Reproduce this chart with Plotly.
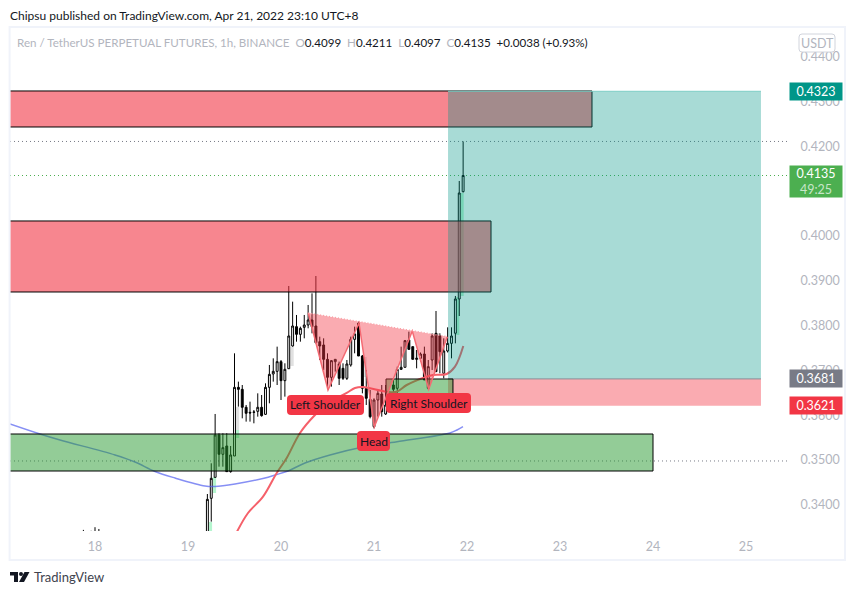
import plotly.graph_objects as go

FONT = "Lato"
WIDTH, HEIGHT = 855, 595
PANE_L, PANE_R, PANE_T, PANE_B = 10, 788, 27, 531

# Hourly OHLC, as hours counted from day 17
wick_hours = [21, 23, 24, 25]
wick_open = [0.3300, 0.3300, 0.3300, 0.3300]
wick_high = [0.3344, 0.3342, 0.3350, 0.3346]
wick_low = [0.3290, 0.3290, 0.3290, 0.3290]
wick_close = [0.3310, 0.3310, 0.3310, 0.3310]

opens = [0.3300, 0.34145, 0.34613, 0.35558, 0.35127, 0.35313, 0.34740, 0.35089, 0.36622, 0.36577,
         0.36176, 0.36064, 0.36064, 0.36086, 0.36176, 0.36019, 0.36622, 0.36920, 0.36979, 0.37195,
         0.36771, 0.37038, 0.37545, 0.37976, 0.37805, 0.37961, 0.38013, 0.38125, 0.37991, 0.37641,
         0.37567, 0.37247, 0.36845, 0.37195, 0.37143, 0.37046, 0.36823, 0.37121, 0.37693, 0.38051,
         0.37321, 0.36600, 0.36354, 0.35744, 0.36339, 0.36473, 0.36027, 0.36228, 0.36674, 0.36600,
         0.37024, 0.37069, 0.37679, 0.37530, 0.37247, 0.37269, 0.37366, 0.36600, 0.37232, 0.37827,
         0.37768, 0.36935, 0.37433, 0.37604, 0.37830, 0.38594, 0.4099]
highs = [0.34241, 0.34926, 0.36027, 0.35595, 0.35595, 0.35595, 0.35313, 0.37381, 0.36749, 0.36674,
         0.36228, 0.36302, 0.36116, 0.36488, 0.36451, 0.36711, 0.37121, 0.37269, 0.37530, 0.37232,
         0.37158, 0.38884, 0.38534, 0.38237, 0.37976, 0.38237, 0.38460, 0.38720, 0.39107, 0.37753,
         0.37716, 0.37381, 0.37232, 0.37247, 0.37195, 0.37158, 0.37232, 0.37753, 0.37976, 0.38088,
         0.37344, 0.37009, 0.36563, 0.36377, 0.36563, 0.36674, 0.36674, 0.36500, 0.36786, 0.37083,
         0.37530, 0.37679, 0.37865, 0.37530, 0.37455, 0.37400, 0.37530, 0.37232, 0.37827, 0.38326,
         0.37827, 0.37716, 0.37961, 0.37961, 0.38661, 0.41228, 0.4211]
lows = [0.3290, 0.33624, 0.34613, 0.34851, 0.34851, 0.34740, 0.34717, 0.35089, 0.36191, 0.35930,
        0.35856, 0.35856, 0.35819, 0.35967, 0.35967, 0.36005, 0.36265, 0.36749, 0.36674, 0.36339,
        0.36414, 0.37038, 0.37530, 0.37641, 0.37641, 0.37716, 0.37939, 0.37827, 0.37604, 0.37232,
        0.37009, 0.36622, 0.36637, 0.36972, 0.36674, 0.36786, 0.36786, 0.37083, 0.37381, 0.37321,
        0.36488, 0.36228, 0.35930, 0.35707, 0.35967, 0.35967, 0.36005, 0.36150, 0.36473, 0.36488,
        0.37009, 0.37069, 0.37455, 0.37247, 0.37046, 0.37200, 0.36786, 0.36577, 0.37009, 0.37000,
        0.36935, 0.36823, 0.37400, 0.37269, 0.37604, 0.38214, 0.4097]
closes = [0.34122, 0.34591, 0.35558, 0.35127, 0.35275, 0.34740, 0.35112, 0.36622, 0.36577, 0.36176,
          0.36042, 0.36050, 0.36070, 0.36176, 0.35990, 0.36622, 0.36912, 0.36979, 0.37195, 0.36771,
          0.37024, 0.37768, 0.37991, 0.37805, 0.37939, 0.38013, 0.38125, 0.37976, 0.37619, 0.37545,
          0.37247, 0.36845, 0.37217, 0.37247, 0.36823, 0.36823, 0.37143, 0.37693, 0.37813, 0.37321,
          0.36600, 0.36377, 0.35967, 0.36339, 0.36488, 0.36079, 0.36228, 0.36400, 0.36577, 0.37024,
          0.37069, 0.37664, 0.37470, 0.37247, 0.37269, 0.37366, 0.36786, 0.37083, 0.37768, 0.36972,
          0.37418, 0.37433, 0.37604, 0.37768, 0.38594, 0.40960, 0.4135]

# Pale range blocks that sit behind the candles
block_time = [19.2409, 19.2839, 19.5323, 19.5323, 20.1183, 20.9032, 21.4624, 21.6882, 21.9000, 21.9462]
block_low = [0.3337, 0.34263, 0.35670, 0.35491, 0.37098, 0.36853, 0.37232, 0.37232, 0.37790, 0.38661]
block_high = [0.33616, 0.34621, 0.36183, 0.35670, 0.37522, 0.37299, 0.37455, 0.37835, 0.38638, 0.40960]
block_color = ["#b5f5cf", "#b5f5cf", "#e0e0e0", "#b5f5cf", "#e0e0e0", "#e0e0e0", "#e0e0e0", "#e0e0e0", "#b5f5cf", "#b5f5cf"]

# Moving averages
ma_blue_time = [17.0860, 17.4086, 17.6237, 18.2151, 18.4301, 18.6452, 18.8602, 19.1828, 19.2903, 19.5054,
                19.8280, 19.9355, 20.0753, 20.2581, 20.5269, 20.8817, 21.2473, 21.8172, 21.8925, 21.9570]
ma_blue = [0.35804, 0.35580, 0.35446, 0.35112, 0.34955, 0.34743, 0.34598, 0.34420, 0.34408, 0.34464,
           0.34598, 0.34665, 0.34754, 0.34933, 0.35112, 0.35290, 0.35408, 0.35603, 0.35670, 0.35743]
ma_red_time = [19.5269, 19.6452, 19.8065, 19.9538, 20.0613, 20.2043, 20.3656, 20.5269, 20.7065, 20.7957,
               20.8817, 21.1366, 21.2441, 21.3516, 21.5269, 21.6344, 21.7817, 21.8710, 21.9602]
ma_red = [0.33400, 0.33817, 0.34181, 0.34710, 0.35045, 0.35603, 0.36004, 0.36295, 0.36496, 0.36607,
          0.36629, 0.36525, 0.36525, 0.36674, 0.36830, 0.36897, 0.36920, 0.37083, 0.37545]

# Head and shoulders pivots
pattern_time = [20.2935, 20.5054, 20.8387, 21.0032, 21.4118, 21.5882, 21.7882]
pattern_price = [0.38281, 0.36562, 0.38058, 0.35737, 0.37879, 0.36578, 0.37752]

# Supply and demand zones: start, end, top, bottom
zones = [
    (16.0, 23.344, 0.43237, 0.42433, "rgba(242,54,69,0.6)"),
    (16.0, 22.258, 0.40335, 0.38750, "rgba(242,54,69,0.6)"),
    (16.0, 24.0, 0.35580, 0.34754, "rgba(39,153,48,0.5)"),
]
entry_box = (21.129, 21.849, 0.36808, 0.36451)

# Long position tool
long_start, long_end = 21.796, 25.161
target_price, entry_price, stop_price = 0.4323, 0.3681, 0.3621
last_high, last_close, level_price = 0.4211, 0.4135, 0.34978

price_ticks = [0.44, 0.43, 0.42, 0.40, 0.39, 0.38, 0.37, 0.36, 0.35, 0.34]
day_ticks = [18, 19, 20, 21, 22, 23, 24, 25]
pattern_labels = [
    ("Left Shoulder", 20.4785, 0.36228, 77),
    ("Head", 20.9946, 0.35424, 33),
    ("Right Shoulder", 21.5860, 0.36272, 85),
]
price_tags = [
    ("0.4323", 0.4323, "#009688", 17, 0),
    ("0.4135<br><span style='color:#c8e6c9'>49:25</span>", 0.4135, "#4caf50", 31, -6),
    ("0.3681", 0.3681, "#787b86", 17, 0),
    ("0.3621", 0.3621, "#f23645", 17, 0),
]


def px_x(x):
    return (x - PANE_L) / (PANE_R - PANE_L)


def px_y(y):
    return (PANE_B - y) / (PANE_B - PANE_T)


def rounded_path(w, h, r):
    a, b = w / 2, h / 2
    return (f"M{-a + r},{-b} L{a - r},{-b} Q{a},{-b} {a},{-b + r} L{a},{b - r} Q{a},{b} {a - r},{b} "
            f"L{-a + r},{b} Q{-a},{b} {-a},{b - r} L{-a},{-b + r} Q{-a},{-b} {-a + r},{-b} Z")


hours = wick_hours + [48 + 5 + i for i in range(len(opens))]
times = [17 + h / 24 for h in hours]

fig = go.Figure()
fig.add_trace(go.Bar(
    x=block_time,
    y=[h - l for h, l in zip(block_high, block_low)],
    base=block_low,
    width=0.036,
    marker=dict(color=block_color, line=dict(width=0)),
    hoverinfo="skip",
))
fig.add_trace(go.Scatter(x=ma_blue_time, y=ma_blue, mode="lines",
                         line=dict(color="rgba(82,96,240,0.7)", width=1.5, shape="spline")))
fig.add_trace(go.Candlestick(
    x=times,
    open=wick_open + opens,
    high=wick_high + highs,
    low=wick_low + lows,
    close=wick_close + closes,
    increasing=dict(fillcolor="#ffffff", line=dict(color="#000000", width=1)),
    decreasing=dict(fillcolor="#000000", line=dict(color="#000000", width=1)),
))
fig.add_trace(go.Scatter(x=ma_red_time, y=ma_red, mode="lines",
                         line=dict(color="#f5606a", width=2, shape="spline")))

shapes = []
# Reference levels
for price, color in [(last_high, "#787b86"), (last_close, "#4caf50"), (level_price, "#787b86")]:
    shapes.append(dict(type="line", xref="paper", x0=0, x1=1, yref="y", y0=price, y1=price,
                       line=dict(color=color, width=1, dash="1px,3px"), layer="below"))

for x0, x1, top, bottom, color in zones:
    shapes.append(dict(type="rect", x0=x0, x1=x1, y0=bottom, y1=top, fillcolor=color,
                       line=dict(color="#000000", width=1), layer="above"))

# Long position: profit and stop areas
shapes.append(dict(type="rect", x0=long_start, x1=long_end, y0=entry_price, y1=target_price,
                   fillcolor="rgba(0,150,136,0.34)", line=dict(width=0), layer="above"))
shapes.append(dict(type="rect", x0=long_start, x1=long_end, y0=stop_price, y1=entry_price,
                   fillcolor="rgba(242,54,69,0.42)", line=dict(width=0), layer="above"))
shapes.append(dict(type="line", x0=long_start, x1=long_end, y0=entry_price, y1=entry_price,
                   line=dict(color="#8a8d96", width=1), layer="above"))
shapes.append(dict(type="line", x0=long_start, x1=long_end, y0=target_price, y1=target_price,
                   line=dict(color="#7fcfc6", width=1), layer="above"))

shapes.append(dict(type="rect", x0=entry_box[0], x1=entry_box[1], y0=entry_box[3], y1=entry_box[2],
                   fillcolor="rgba(39,153,48,0.5)", line=dict(color="#000000", width=1), layer="above"))

# Pattern polygon; closing the path draws the neckline
pattern_path = "M" + " L".join(f"{t},{p}" for t, p in zip(pattern_time, pattern_price)) + " Z"
shapes.append(dict(type="path", path=pattern_path, fillcolor="rgba(242,54,69,0.42)",
                   line=dict(width=0), layer="above"))
zigzag_path = "M" + " L".join(f"{t},{p}" for t, p in zip(pattern_time, pattern_price))
shapes.append(dict(type="path", path=zigzag_path, line=dict(color="#f56a73", width=1.5), layer="above"))
shapes.append(dict(type="line", x0=pattern_time[0], x1=pattern_time[-1],
                   y0=pattern_price[0], y1=pattern_price[-1],
                   line=dict(color="#f9a0a6", width=1.5, dash="1px,2px"), layer="above"))

annotations = []
for text, t, p, w in pattern_labels:
    shapes.append(dict(type="path", xsizemode="pixel", ysizemode="pixel", xanchor=t, yanchor=p,
                       path=rounded_path(w, 20, 4), fillcolor="#f23645", line=dict(width=0), layer="above"))
    annotations.append(dict(x=t, y=p, text=text, showarrow=False,
                            font=dict(family=FONT, size=12, color="#131722")))

for text, price, color, h, shift in price_tags:
    annotations.append(dict(xref="paper", yref="y", x=px_x(789), y=price, xanchor="left", yanchor="middle",
                            text=text, showarrow=False, bgcolor=color, width=52, height=h, borderpad=0,
                            yshift=shift, align="center", font=dict(family=FONT, size=12.5, color="#ffffff")))

# Outer frame of the chart widget
shapes.append(dict(type="rect", xref="paper", yref="paper", x0=px_x(9.6), x1=px_x(845), y0=px_y(560), y1=px_y(27),
                   line=dict(color="#f0f3fa", width=2), layer="above"))

# Currency badge
shapes.append(dict(type="path", xsizemode="pixel", ysizemode="pixel", xref="paper", yref="paper",
                   xanchor=px_x(817), yanchor=px_y(43), path=rounded_path(36, 18, 3),
                   fillcolor="#ffffff", line=dict(color="#d1d4dc", width=1), layer="above"))
annotations.append(dict(xref="paper", yref="paper", x=px_x(817), y=px_y(43), xanchor="center", yanchor="middle",
                        text="USDT", showarrow=False,
                        font=dict(family=FONT, size=12.5, color="#b2b5be")))

annotations.append(dict(xref="paper", yref="paper", x=px_x(8), y=px_y(15), xanchor="left", yanchor="middle",
                        text="Chipsu published on TradingView.com, Apr 21, 2022 23:10 UTC+8", showarrow=False,
                        font=dict(family=FONT, size=12, color="#131722")))

GREY = "color:#b2b5be"
legend_text = (f"<span style='{GREY}'>Ren / TetherUS PERPETUAL FUTURES, 1h, BINANCE  O</span>0.4099  "
               f"<span style='{GREY}'>H</span>0.4211  <span style='{GREY}'>L</span>0.4097  "
               f"<span style='{GREY}'>C</span>0.4135  +0.0038 (+0.93%)")
annotations.append(dict(xref="paper", yref="paper", x=px_x(15), y=px_y(42), xanchor="left", yanchor="middle",
                        text=legend_text, showarrow=False,
                        font=dict(family=FONT, size=11.6, color="#131722")))

# Brand mark in the footer
logo_paths = [
    ((10, 572), (18, 572), (18, 582), (14, 582), (14, 575.5), (10, 575.5)),
    ((24.5, 572), (29.5, 572), (24, 582), (19, 582)),
]
for pts in logo_paths:
    path = "M" + " L".join(f"{px_x(x)},{px_y(y)}" for x, y in pts) + " Z"
    shapes.append(dict(type="path", xref="paper", yref="paper", path=path,
                       fillcolor="#131722", line=dict(width=0), layer="above"))
shapes.append(dict(type="circle", xref="paper", yref="paper", x0=px_x(19), x1=px_x(23), y0=px_y(576), y1=px_y(572),
                   fillcolor="#131722", line=dict(width=0), layer="above"))
annotations.append(dict(xref="paper", yref="paper", x=px_x(32), y=px_y(577), xanchor="left", yanchor="middle",
                        text="TradingView", showarrow=False,
                        font=dict(family=FONT, size=13, color="#40434e")))

fig.update_layout(
    width=WIDTH,
    height=HEIGHT,
    autosize=False,
    margin=dict(l=PANE_L, r=WIDTH - PANE_R, t=PANE_T, b=HEIGHT - PANE_B, pad=0),
    paper_bgcolor="#ffffff",
    plot_bgcolor="#ffffff",
    showlegend=False,
    hovermode=False,
    shapes=shapes,
    annotations=annotations,
    font=dict(family=FONT, size=12, color="#b2b5be"),
    xaxis=dict(
        range=[17.0860, 25.4516],
        tickvals=day_ticks,
        ticktext=[str(d) for d in day_ticks],
        showgrid=False,
        zeroline=False,
        showline=False,
        ticks="outside",
        ticklen=4,
        tickcolor="rgba(0,0,0,0)",
        tickfont=dict(family=FONT, size=12.5, color="#b2b5be"),
        rangeslider=dict(visible=False),
    ),
    yaxis=dict(
        range=[0.33415, 0.44665],
        side="right",
        tickvals=price_ticks,
        ticktext=[f"{p:.4f}" for p in price_ticks],
        showgrid=False,
        zeroline=False,
        showline=False,
        ticks="outside",
        ticklen=9,
        tickcolor="rgba(0,0,0,0)",
        tickfont=dict(family=FONT, size=12.5, color="#b2b5be"),
    ),
)

fig.write_html("out.html", config=dict(displayModeBar=False))
